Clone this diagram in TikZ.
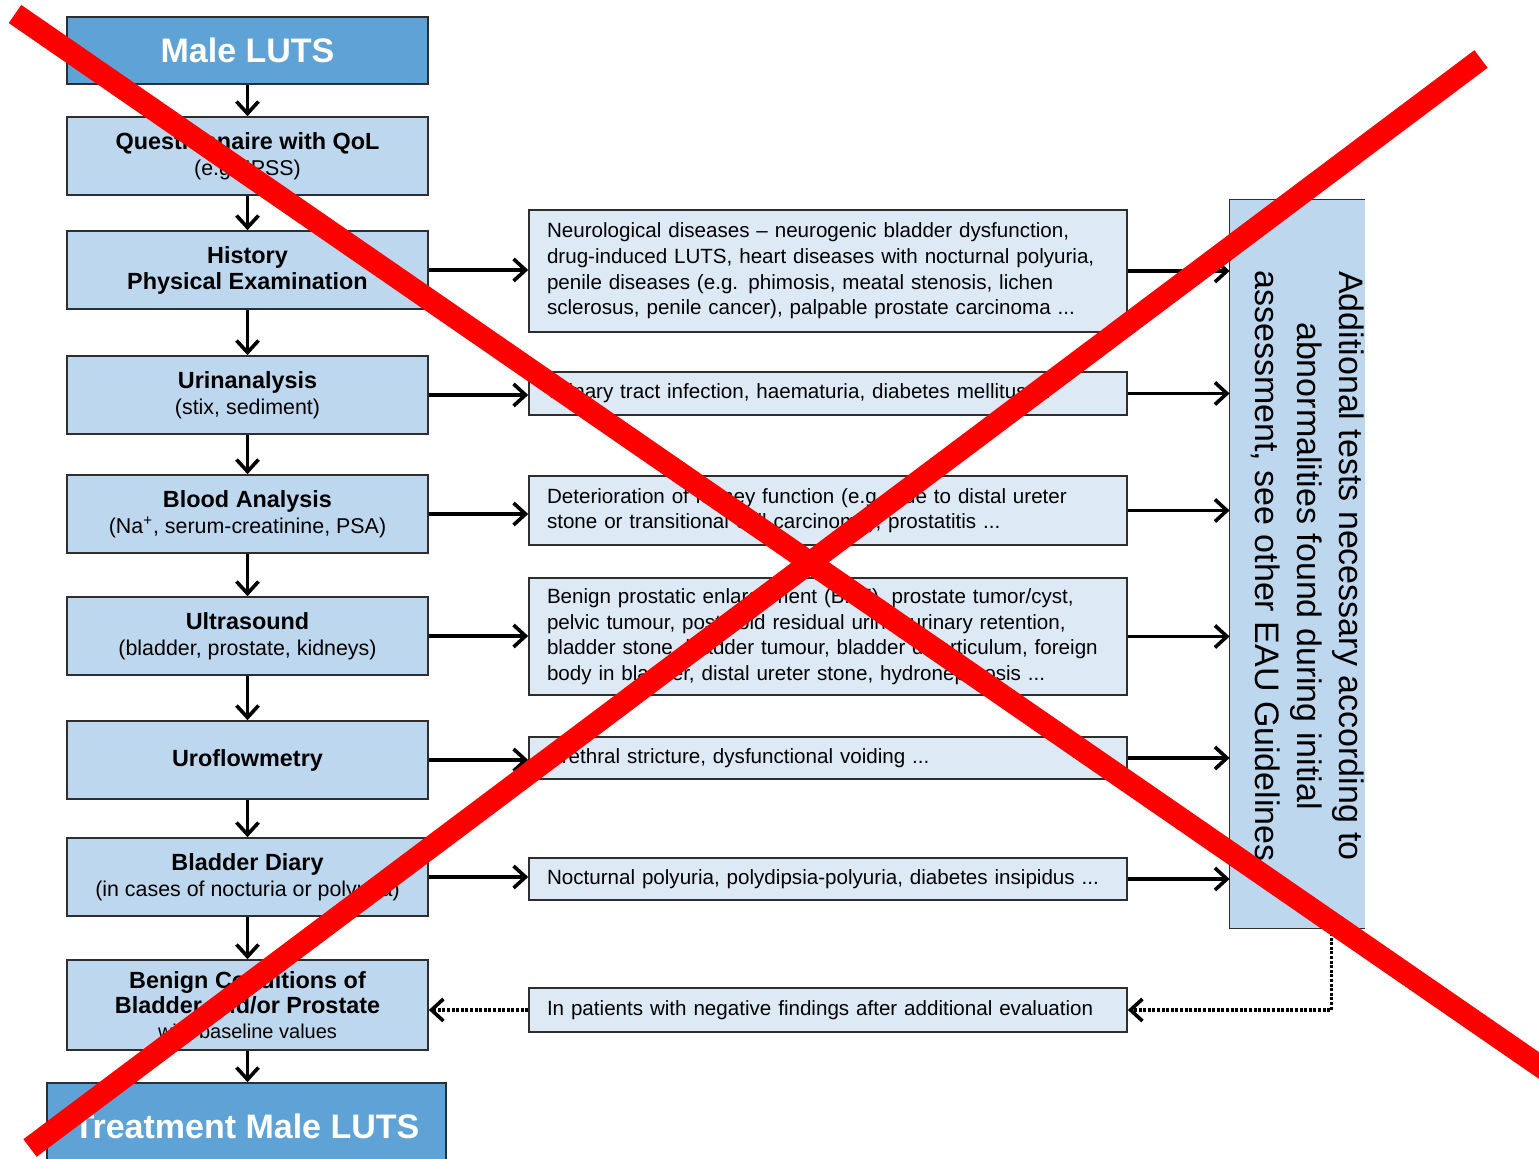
\documentclass[tikz,border=0pt]{standalone}
\usepackage{fontspec}
\setmainfont{Liberation Sans}
\usetikzlibrary{arrows.meta,positioning,calc}
\definecolor{lutsblue}{HTML}{5FA2D5}
\definecolor{stepfill}{HTML}{BDD7EE}
\definecolor{findfill}{HTML}{DDEAF6}
\definecolor{edgegray}{HTML}{2E2E2E}
\newcommand{\steptitle}[1]{{\fontsize{11.7}{13.5}\selectfont\bfseries #1}}

\begin{document}
\begin{tikzpicture}[x=0.5pt, y=-0.5pt,
  headbox/.style = {fill = lutsblue, draw = edgegray, line width = 0.8pt, text = white, inner sep = 0pt, minimum width = 180.5pt, minimum height = 33.5pt, font = \fontsize{17}{20}\selectfont\bfseries},
  stepbox/.style = {fill = stepfill, draw = edgegray, line width = 0.8pt, align = center, inner sep = 0pt, minimum width = 180.5pt, minimum height = 39pt, font = \fontsize{10.7}{13}\selectfont},
  findbox/.style = {fill = findfill, draw = edgegray, line width = 0.8pt, align = left, text width = 281pt, inner xsep = 9pt, inner ysep = 0pt, font = \fontsize{10.3}{12.8}\selectfont},
  arr/.style = {line width = 1.6pt, -{Straight Barb[length = 6pt, width = 11pt, line width = 1.8pt]}},
  dotarr/.style = {arr, dash pattern = on 1.5pt off 0.8pt}]
\useasboundingbox (0,0) rectangle (1539,1159);

% main column
\node[headbox] (male) at (247.5,50.5) {Male LUTS};
\node[stepbox] (quest) at (247.5,156) {\steptitle{Questionnaire with QoL}\\(e.g. IPSS)};
\node[stepbox] (hist) at (247.5,270) {\steptitle{History}\\\steptitle{Physical Examination}};
\node[stepbox] (urin) at (247.5,395) {\steptitle{Urinanalysis}\\(stix, sediment)};
\node[stepbox] (blood) at (247.5,514) {\steptitle{Blood Analysis}\\(Na\textsuperscript{+}, serum-creatinine, PSA)};
\node[stepbox] (ultra) at (247.5,636) {\steptitle{Ultrasound}\\(bladder, prostate, kidneys)};
\node[stepbox] (uroflow) at (247.5,760) {\steptitle{Uroflowmetry}};
\node[stepbox] (diary) at (247.5,877) {\steptitle{Bladder Diary}\\(in cases of nocturia or polyuria)};
\node[stepbox, minimum height = 45pt, font = \fontsize{10}{12.5}\selectfont] (benign) at (247.5,1005) {\steptitle{Benign Conditions of}\\\steptitle{Bladder and/or Prostate}\\with baseline values};
\node[headbox, minimum width = 199.5pt, minimum height = 43pt] (treat) at (246.5,1126) {Treatment Male LUTS};

% findings
\node[findbox, minimum height = 61pt] (neuro) at (828,271) {Neurological diseases -- neurogenic bladder dysfunction,\\drug-induced LUTS, heart diseases with nocturnal polyuria,\\penile diseases (e.g. phimosis, meatal stenosis, lichen\\sclerosus, penile cancer), palpable prostate carcinoma ...};
\node[findbox, minimum height = 21.5pt] (uti) at (828,393.5) {Urinary tract infection, haematuria, diabetes mellitus ...};
\node[findbox, minimum height = 34.5pt] (kidney) at (828,510.5) {Deterioration of kidney function (e.g. due to distal ureter\\stone or transitional cell carcinoma), prostatitis ...};
\node[findbox, minimum height = 58.5pt] (bpe) at (828,636.5) {Benign prostatic enlargement (BPE), prostate tumor/cyst,\\pelvic tumour, post-void residual urine, urinary retention,\\bladder stone, bladder tumour, bladder diverticulum, foreign\\body in bladder, distal ureter stone, hydronephrosis ...};
\node[findbox, minimum height = 21pt] (stricture) at (828,758) {Urethral stricture, dysfunctional voiding ...};
\node[findbox, minimum height = 21pt] (polyuria) at (828,879) {Nocturnal polyuria, polydipsia-polyuria, diabetes insipidus ...};
\node[findbox, minimum height = 22pt] (negative) at (828,1010) {In patients with negative findings after additional evaluation};

% additional tests
\node[fill = stepfill, inner sep = 0pt, minimum width = 67.5pt, minimum height = 364pt] (add) at (1297.5,564) {};
\draw[edgegray, line width = 0.8pt] (add.north east) -- (add.north west) -- (add.south west) -- (add.south east);
\node[rotate = -90, align = center, font = \fontsize{17}{21}\selectfont] (addtext) at (1307.5,566) {Additional tests necessary according to\\abnormalities found during initial\\assessment, see other EAU Guidelines};

% arrows
\foreach \a/\b in {male/quest, quest/hist, hist/urin, urin/blood, blood/ultra, ultra/uroflow, uroflow/diary, diary/benign, benign/treat}
  \draw[arr] (\a.south) -- (\a.south |- \b.north);
\foreach \a/\b in {hist/neuro, urin/uti, blood/kidney, ultra/bpe, uroflow/stricture, diary/polyuria}
{
  \draw[arr] (\a.east) -- (\a.east -| \b.west);
  \draw[arr] (\b.east) -- (\b.east -| add.west);
}
\draw[dotarr] ($(add.south west)!0.75!(add.south east)$) |- (negative.east);
\draw[dotarr] (negative.west) -- (negative.west -| benign.east);

% cross
\draw[red, line width = 11pt] (15,14) -- (1560,1080);
\draw[red, line width = 11pt] (1481,59) -- (30,1148);
\end{tikzpicture}
\end{document}
